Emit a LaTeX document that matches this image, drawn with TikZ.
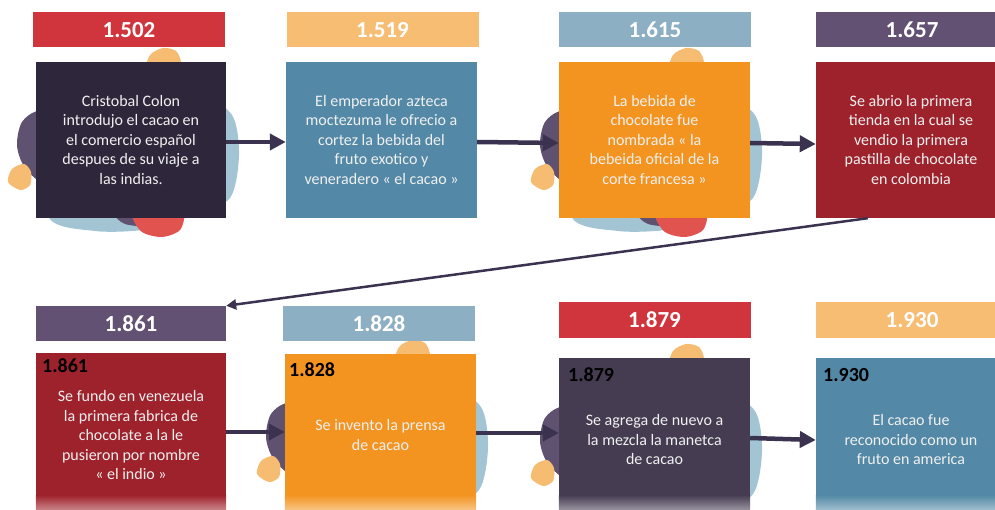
\documentclass[tikz,border=0pt]{standalone}
\usepackage{fontspec}
\setmainfont{Carlito}
\usetikzlibrary{arrows.meta}

\definecolor{hdred}{HTML}{D0343C}
\definecolor{hdsand}{HTML}{F7BE73}
\definecolor{hdsky}{HTML}{8CAFC3}
\definecolor{hdplum}{HTML}{625173}
\definecolor{bxnight}{HTML}{2E263A}
\definecolor{bxteal}{HTML}{5389A6}
\definecolor{bxorange}{HTML}{F39421}
\definecolor{bxwine}{HTML}{9E222B}
\definecolor{bxgrape}{HTML}{463C52}
\definecolor{linkcol}{HTML}{3B3250}
\definecolor{blobblue}{HTML}{A3C4D3}
\definecolor{blobplum}{HTML}{5E5270}
\definecolor{blobred}{HTML}{E0534F}
\definecolor{blobsand}{HTML}{F5BC72}

\begin{document}
\begin{tikzpicture}[x=1pt, y=-1pt,
    year/.style={rectangle, fill=#1, minimum width=192pt, minimum height=35pt,
        inner sep=0pt, text=white, font=\bfseries\fontsize{23}{26}\selectfont},
    event/.style={rectangle, fill=#1, minimum width=190pt, minimum height=156pt,
        inner sep=0pt, text=white!94!black, align=center, font=\fontsize{16}{19.5}\selectfont},
    yeartag/.style={anchor=base west, inner sep=0pt, font=\bfseries\fontsize{20}{22}\selectfont},
    link/.style={line width=4.5pt, draw=linkcol, -{Triangle[length=16pt,width=16pt]}},
    drop/.style={line width=2.5pt, draw=linkcol, -{Triangle[length=10pt,width=10pt]}}
]
    \useasboundingbox (0,0) rectangle (995,510);
    \clip (0,0) rectangle (995,510);

    \foreach \dx/\dy in {0/0, 523/0, 249/292, 523/296} {
        \begin{scope}[shift={(\dx,\dy)}]
            \fill[blobblue] plot[smooth cycle] coordinates {(48,216) (95,231) (150,229)
                (195,214) (230,198) (239,155) (232,115) (200,98) (120,100) (60,140)};
            \fill[blobplum] plot[smooth cycle] coordinates {(40,110) (22,122) (17,145)
                (24,166) (45,185) (105,210) (125,224) (150,224) (165,200) (150,120) (90,102)};
            \fill[blobred] plot[smooth cycle] coordinates {(132,216) (142,232) (162,237)
                (180,230) (183,212) (160,200) (138,205)};
            \fill[blobsand] plot[smooth cycle] coordinates {(148,70) (150,55) (163,48)
                (176,51) (181,62) (179,72)};
            \fill[blobsand] plot[smooth cycle] coordinates {(8,182) (12,169) (24,164)
                (31,172) (30,185) (20,190)};
        \end{scope}
    }

    \node[year=hdred] (h1) at (129,30) {1.502};
    \node[year=hdsand] (h2) at (382.5,30) {1.519};
    \node[year=hdsky] (h3) at (655,30) {1.615};
    \node[year=hdplum] (h4) at (912,30) {1.657};
    \node[year=hdplum, minimum width=190pt] (h5) at (131,323.5) {1.861};
    \node[year=hdsky] (h6) at (379,323.5) {1.828};
    \node[year=hdred, minimum height=36pt] (h7) at (654.5,320) {1.879};
    \node[year=hdsand, minimum height=36pt] (h8) at (912,320) {1.930};

    \node[event=bxnight] (b1) at (131,140) {Cristobal Colon\\introdujo el cacao en\\el comercio español\\despues de su viaje a\\las indias.};
    \node[event=bxteal, minimum width=191pt] (b2) at (381.5,140) {El emperador azteca\\moctezuma le ofrecio a\\cortez la bebida del\\fruto exotico y\\veneradero « el cacao »};
    \node[event=bxorange, minimum width=191pt] (b3) at (654.5,140) {La bebida de\\chocolate fue\\nombrada « la\\bebeida oficial de la\\corte francesa »};
    \node[event=bxwine] (b4) at (911,140) {Se abrio la primera\\tienda en la cual se\\vendio la primera\\pastilla de chocolate\\en colombia};
    \node[event=bxwine, minimum height=164pt] (b5) at (131,435) {Se fundo en venezuela\\la primera fabrica de\\chocolate a la le\\pusieron por nombre\\« el indio »};
    \node[event=bxorange, minimum width=191pt, minimum height=162pt] (b6) at (380.5,435) {Se invento la prensa\\de cacao};
    \node[event=bxgrape, minimum width=191pt, minimum height=164pt] (b7) at (654.5,440) {Se agrega de nuevo a\\la mezcla la manetca\\de cacao};
    \node[event=bxteal, minimum height=164pt] (b8) at (911,440) {El cacao fue\\reconocido como un\\fruto en america};

    \foreach \n/\c in {b5/bxwine, b6/bxorange, b7/bxgrape, b8/bxteal}
        \shade[top color=\c, bottom color=\c!55!white] (\n.west |- 0,495) rectangle (\n.east |- 0,510);

    \node[yeartag] (t5) at (42,372) {1.861};
    \node[yeartag] (t6) at (289,376) {1.828};
    \node[yeartag] (t7) at (568,381) {1.879};
    \node[yeartag] (t8) at (823,381) {1.930};

    \draw[link] ([yshift=-2pt]b1.east) -- ([yshift=-2pt]b2.west);
    \draw[link] ([yshift=-2pt]b2.east) -- ([yshift=-3pt]b3.west);
    \draw[link] ([yshift=-3pt]b3.east) -- ([yshift=-4pt]b4.west);
    \draw[drop] ([xshift=52pt]b4.south west) -- (h5.north east);
    \draw[link] ([yshift=3pt]b5.east) -- ([yshift=3pt]b6.west);
    \draw[link] ([yshift=2pt]b6.east) -- ([yshift=7pt]b7.west);
    \draw[link] ([yshift=2pt]b7.east) -- (b8.west);
\end{tikzpicture}
\end{document}
